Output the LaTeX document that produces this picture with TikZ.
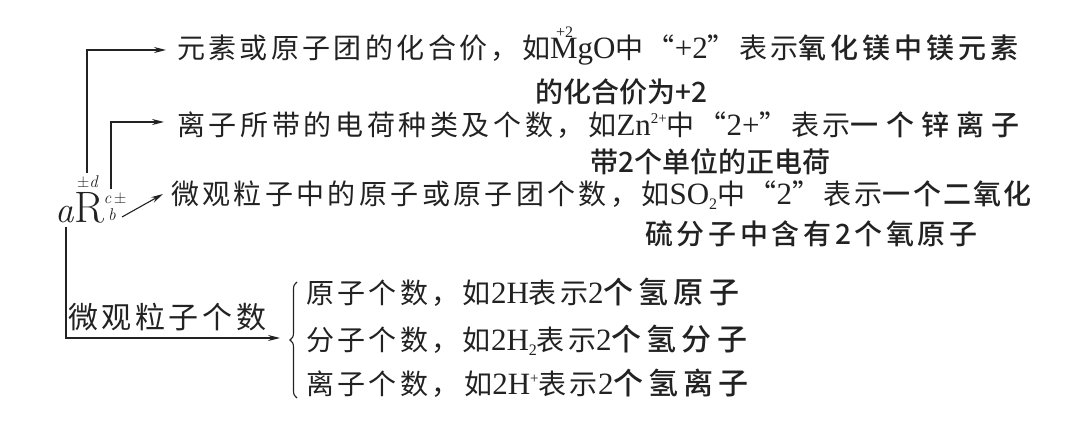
\documentclass[tikz,border=0pt]{standalone}
\usepackage{fontspec}
\newfontfamily\tms{Liberation Serif}
\newfontfamily\cjk[BoldFont={Noto Sans CJK SC Medium}]{Noto Sans CJK SC}
\usetikzlibrary{arrows.meta,decorations.pathreplacing}
\newcommand\Cr[2][12]{{\cjk\addfontfeatures{LetterSpace=#1}#2}}
\newcommand\Cb[2][0]{{\cjk\bfseries\addfontfeatures{LetterSpace=#1}#2}}
\newcommand\Lt[1]{{\tms\fontsize{31}{32}\selectfont #1}}
\newcommand\valM{\makebox[0pt][l]{\hspace{6pt}\raisebox{21pt}{\fontsize{16}{16}\selectfont +2}}M}
\newcommand\supr[1]{\raisebox{12pt}{\fontsize{15}{15}\selectfont #1}}
\newcommand\subr[1]{\raisebox{-5pt}{\fontsize{16}{16}\selectfont #1}}
\definecolor{ink}{HTML}{222222}
\begin{document}
\begin{tikzpicture}[x=1pt,y=-1pt,
  txt/.style={anchor=base west,inner sep=0pt,text=ink,font=\fontsize{28}{30}\selectfont},
  sym/.style={inner sep=0pt,text=ink},
  conn/.style={draw=ink,line width=1.1pt,-{Stealth[length=12pt,width=6pt]}},
  plain/.style={draw=ink,line width=1.1pt}]
\useasboundingbox (0,0) rectangle (1080,422);
\fill[white] (0,0) rectangle (1080,422);
% symbol
\node[sym,anchor=base west,font=\fontsize{37}{37}\selectfont\itshape] (sa) at (55,223) {a};
\node[sym,anchor=base west,font=\fontsize{44}{44}\selectfont] (sR) at (74,223) {R};
\node[sym,font=\fontsize{17}{17}\selectfont] (sd) at (88,182) {±\textit{d}};
\node[sym,font=\fontsize{17}{17}\selectfont] (sc) at (115,198) {\textit{c}\,±};
\node[sym,font=\fontsize{17}{17}\selectfont\itshape] (sb) at (112,215) {b};
% texts
\node[txt] (L1) at (177,59) {\Cr{元素或原子团的化合价，如}\Lt{\valM gO}\Cr{中“}\Lt{+2}\Cr{”表示}\Cb[14]{氧化镁中镁元素}};
\node[txt] (L1b) at (535,103) {\Cb{的化合价为+2}};
\node[txt] (L2) at (177,136) {\Cr[13]{离子所带的电荷种类及个数，如}\Lt{Zn\supr{2+}}\Cr[13]{中“}\Lt{2+}\Cr[13]{”表示}\Cb[26]{一个锌离子}};
\node[txt] (L2b) at (590,173) {\Cb{带2个单位的正电荷}};
\node[txt] (L3) at (171,205) {\Cr{微观粒子中的原子或原子团个数，如}\Lt{SO\subr{2}}\Cr{中“}\Lt{2}\Cr{”表示}\Cb[8]{一个二氧化}};
\node[txt] (L3b) at (645,245) {\Cb[13]{硫分子中含有2个氧原子}};
\node[txt,font=\fontsize{30}{32}\selectfont] (lab) at (68,329) {\Cr{微观粒子个数}};
\node[txt] (B1) at (306,304) {\Cr{原子个数，如}\Lt{2H}\Cr{表示}\Lt{2}{\fontsize{30}{32}\selectfont\Cb[17]{个氢原子}}};
\node[txt] (B2) at (306,351) {\Cr{分子个数，如}\Lt{2H\subr{2}}\Cr{表示}\Lt{2}{\fontsize{30}{32}\selectfont\Cb[17]{个氢分子}}};
\node[txt] (B3) at (306,395) {\Cr{离子个数，\,如}\Lt{2H\supr{+}}\Cr{表示}\Lt{2}{\fontsize{30}{32}\selectfont\Cb[17]{个氢离子}}};
% connectors
\coordinate (t1) at (166,50);
\coordinate (t2) at (164,122);
\coordinate (t3) at (163,194);
\coordinate (t4) at (280,338);
\draw[conn] (sd.north -| 87,0) ++(0,-3) |- (t1);
\draw[conn] (sc.north -| 111,0) ++(0,-3) |- (t2);
\draw[conn] (122,217) -- (t3);
\draw[conn] (sa.south -| 66,0) ++(0,3) |- (t4);
\draw[plain,decorate,decoration={brace,amplitude=7pt}] (297,398) -- (297,282);
\end{tikzpicture}
\end{document}
